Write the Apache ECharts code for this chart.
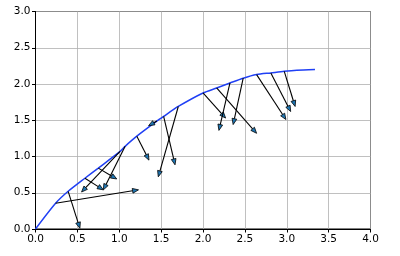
<!DOCTYPE html>
<html><head><meta charset="utf-8">
<script src="https://cdn.jsdelivr.net/npm/echarts@6/dist/echarts.min.js"></script>
<style>html,body{margin:0;padding:0;background:#fff}#c{width:400px;height:256px}</style>
</head><body><div id="c"></div>
<script>
var curveX = [0, 0.24, 0.39, 0.59, 0.75, 1.01, 1.07, 1.21, 1.44, 1.53, 1.705, 2.0, 2.163, 2.322, 2.48, 2.64, 2.81, 2.97, 3.12, 3.337];
var curveY = [0, 0.355, 0.52, 0.70, 0.84, 1.07, 1.14, 1.28, 1.48, 1.553, 1.69, 1.876, 1.945, 2.014, 2.08, 2.13, 2.153, 2.175, 2.19, 2.2];
var arrowX0 = [0.24, 0.39, 1.07, 1.01, 0.75, 0.59, 1.21, 1.45, 1.705, 1.53, 2.0, 2.163, 2.322, 2.48, 2.64, 2.81, 2.97];
var arrowY0 = [0.355, 0.52, 1.14, 1.07, 0.84, 0.70, 1.28, 1.49, 1.69, 1.553, 1.876, 1.945, 2.014, 2.08, 2.13, 2.153, 2.175];
var arrowX1 = [1.23, 0.53, 0.81, 0.55, 0.97, 0.81, 1.355, 1.35, 1.466, 1.666, 2.27, 2.64, 2.19, 2.36, 2.99, 3.047, 3.10];
var arrowY1 = [0.54, 0.01, 0.54, 0.51, 0.69, 0.54, 0.95, 1.425, 0.72, 0.885, 1.53, 1.32, 1.36, 1.44, 1.51, 1.62, 1.69];

var curveData = curveX.map(function (x, i) { return [x, curveY[i]]; });
var arrowData = arrowX0.map(function (x, i) { return [x, arrowY0[i], arrowX1[i], arrowY1[i]]; });

var chart = echarts.init(document.getElementById('c'), null, {renderer: 'canvas'});
var font = 'DejaVu Sans';
chart.setOption({
  animation: false,
  grid: {left: 35.5, right: 29.5, top: 11.5, bottom: 27, show: true, borderColor: '#000', borderWidth: 1, backgroundColor: 'transparent'},
  xAxis: {
    type: 'value', min: 0, max: 4, interval: 0.5,
    axisLine: {show: true, onZero: false, lineStyle: {color: '#000', width: 1}},
    axisTick: {show: true, length: 3.5, lineStyle: {color: '#000'}},
    axisLabel: {color: '#000', fontFamily: font, fontSize: 10.5, margin: 4.5, formatter: function (v) { return v.toFixed(1); }},
    splitLine: {show: true, lineStyle: {color: '#b0b0b0', width: 0.8}}
  },
  yAxis: {
    type: 'value', min: 0, max: 3, interval: 0.5,
    axisLine: {show: true, onZero: false, lineStyle: {color: '#000', width: 1}},
    axisTick: {show: true, length: 3.5, lineStyle: {color: '#000'}},
    axisLabel: {color: '#000', fontFamily: font, fontSize: 10.5, margin: 5, formatter: function (v) { return v.toFixed(1); }},
    splitLine: {show: true, lineStyle: {color: '#b0b0b0', width: 0.8}}
  },
  series: [
    {
      type: 'line', data: curveData, showSymbol: false, symbol: 'none', smooth: 0.25,
      lineStyle: {color: '#2040f5', width: 1.5}, z: 3
    },
    {
      type: 'custom', data: arrowData, z: 4,
      encode: {x: [0, 2], y: [1, 3]},
      renderItem: function (params, api) {
        var p0 = api.coord([api.value(0), api.value(1)]);
        var p1 = api.coord([api.value(2), api.value(3)]);
        var dx = p1[0] - p0[0], dy = p1[1] - p0[1];
        var L = Math.sqrt(dx * dx + dy * dy) || 1;
        var ux = dx / L, uy = dy / L;
        var nx = -uy, ny = ux;
        var hl = 6, hw = 2.4;
        var bx = p1[0] - ux * hl, by = p1[1] - uy * hl;
        return {
          type: 'group',
          children: [
            {type: 'line', shape: {x1: p0[0], y1: p0[1], x2: bx, y2: by},
             style: {stroke: '#000', lineWidth: 1.1}},
            {type: 'polygon', shape: {points: [[p1[0], p1[1]], [bx + nx * hw, by + ny * hw], [bx - nx * hw, by - ny * hw]]},
             style: {fill: '#1f77b4', stroke: '#000', lineWidth: 0.8}}
          ]
        };
      }
    }
  ]
});
</script></body></html>
